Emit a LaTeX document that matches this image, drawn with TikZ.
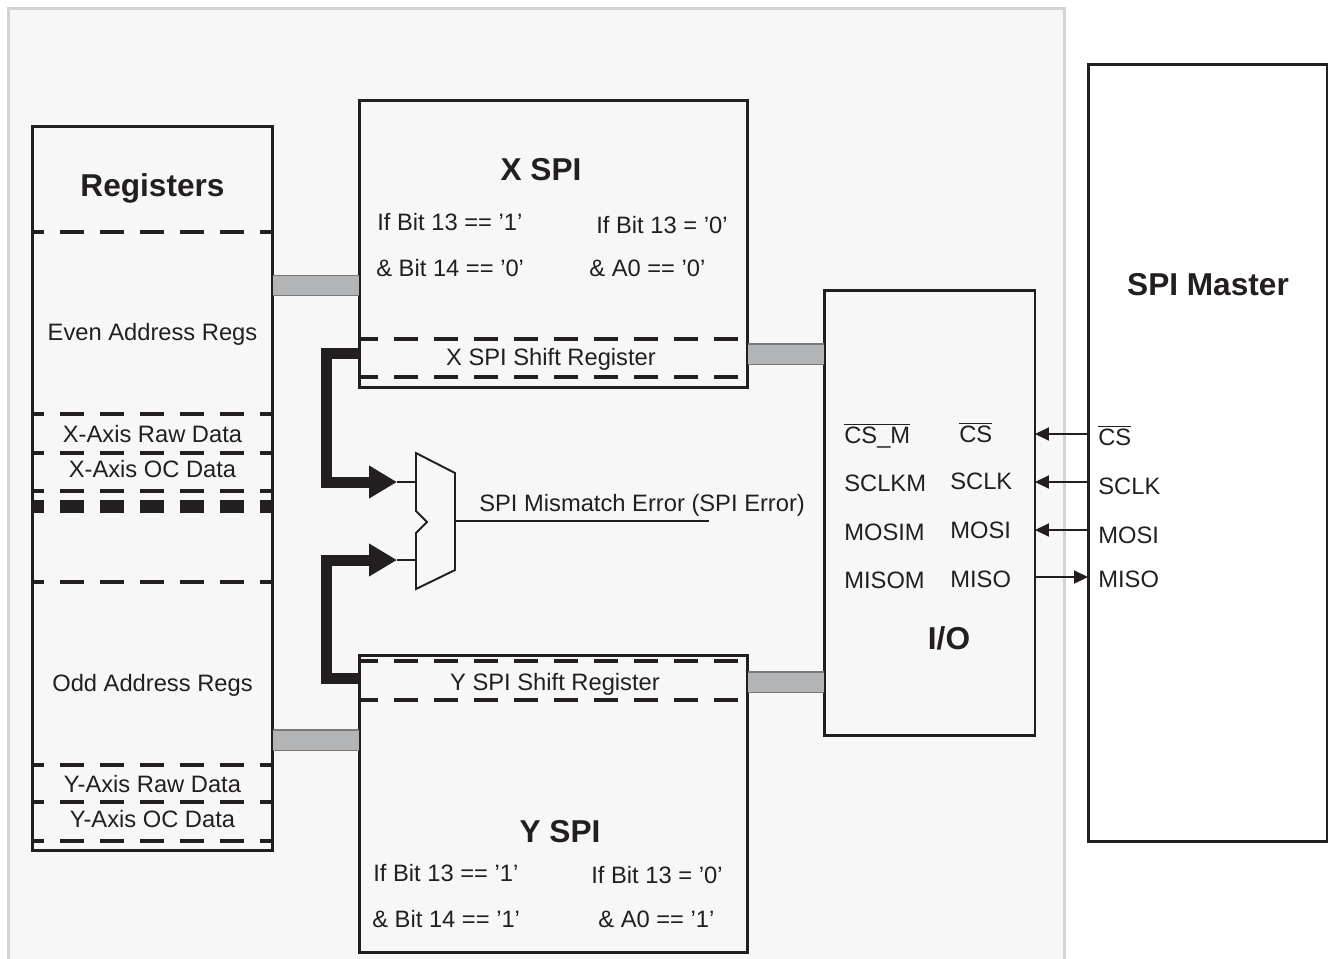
\documentclass[tikz,border=0pt]{standalone}
\usepackage{fontspec}
\setmainfont{Liberation Sans}
\usepackage{tikz}
\usetikzlibrary{arrows.meta, positioning}
\definecolor{inkblack}{RGB}{35,31,32}
\definecolor{panelgray}{RGB}{247,247,247}
\definecolor{paneledge}{RGB}{209,211,212}
\definecolor{busfill}{RGB}{179,180,182}
\definecolor{busedge}{RGB}{120,121,123}
\tikzstyle{block}=[rectangle, draw=inkblack, line width=1.7pt, fill=panelgray,
  outer sep=0pt, inner sep=0pt]
\tikzstyle{lbl}=[inner sep=0pt, anchor=base, text=inkblack,
  font=\fontsize{13.5}{16}\selectfont]
\tikzstyle{title}=[lbl, font=\fontsize{18}{21}\selectfont\bfseries]
\tikzstyle{divider}=[draw=inkblack, line width=2.1pt,
  dash pattern=on 0.48cm off 0.32cm, dash phase=0.24cm]
\tikzstyle{bus}=[draw=busedge, line width=0.6pt, double=busfill, double distance=0.38cm]
\tikzstyle{wire}=[draw=inkblack, line width=0.22cm, line join=miter,
  -{Triangle[length=0.56cm,width=0.62cm]}]
\tikzstyle{sig}=[draw=inkblack, line width=1.1pt, -{Triangle[length=0.28cm,width=0.26cm]}]
\tikzstyle{thinline}=[draw=inkblack, line width=1.1pt]
\newcommand{\ovl}[1]{$\overline{\mbox{#1}}$}

\begin{document}
\begin{tikzpicture}[x=0.02cm, y=-0.02cm]
  \useasboundingbox (0,0) rectangle (1328,958);
  % sensor side panel
  \fill[panelgray] (8,8) rectangle (1064.5,970);
  \draw[paneledge, line width=1.7pt] (8.5,970) -- (8.5,8.5) -- (1064.5,8.5) -- (1064.5,970);

  % main blocks
  \node[block, minimum width=4.82cm, minimum height=14.5cm] (regs) at (152.5,488.5) {};
  \node[block, minimum width=7.78cm, minimum height=5.76cm] (xspi) at (553.5,244) {};
  \node[block, minimum width=7.78cm, minimum height=5.96cm] (yspi) at (553.5,804) {};
  \node[block, minimum width=4.22cm, minimum height=8.92cm] (io) at (929.5,513) {};
  \node[block, fill=white, minimum width=4.78cm, minimum height=15.56cm] (master) at (1207.5,453) {};

  % register map dividers
  \foreach \y in {232,414,453,491,582,765,802,841}
    \draw[divider] (regs.west |- 0,\y) -- (regs.east |- 0,\y);
  \draw[divider, line width=0.26cm] (regs.west |- 0,506) -- (regs.east |- 0,506);
  \foreach \y in {339,377}
    \draw[divider, dash phase=0.1cm] (xspi.west |- 0,\y) -- (xspi.east |- 0,\y);
  \foreach \y in {661,700}
    \draw[divider, dash phase=0.1cm] (yspi.west |- 0,\y) -- (yspi.east |- 0,\y);

  % register texts
  \node[title] (regtitle) at (152.5,196) {Registers};
  \node[lbl] (evenregs) at (152.5,340) {Even Address Regs};
  \node[lbl] (xraw) at (152.5,442) {X-Axis Raw Data};
  \node[lbl] (xoc) at (152.5,477) {X-Axis OC Data};
  \node[lbl] (oddregs) at (152.5,691) {Odd Address Regs};
  \node[lbl] (yraw) at (152.5,792) {Y-Axis Raw Data};
  \node[lbl] (yoc) at (152.5,827) {Y-Axis OC Data};

  % X SPI
  \node[title] (xtitle) at (541,180) {X SPI};
  \node[lbl, anchor=base west] (xcond1) at (377,230) {If Bit 13 == '1'};
  \node[lbl, anchor=base west] (xcond2) at (376,276) {\& Bit 14 == '0'};
  \node[lbl, anchor=base west] (xcond3) at (596,233) {If Bit 13 = '0'};
  \node[lbl, anchor=base west] (xcond4) at (589,276) {\& A0 == '0'};
  \node[lbl] (xshift) at (551,365) {X SPI Shift Register};

  % Y SPI
  \node[lbl] (yshift) at (555,690) {Y SPI Shift Register};
  \node[title] (ytitle) at (560,842) {Y SPI};
  \node[lbl, anchor=base west] (ycond1) at (373,881) {If Bit 13 == '1'};
  \node[lbl, anchor=base west] (ycond2) at (372,927) {\& Bit 14 == '1'};
  \node[lbl, anchor=base west] (ycond3) at (591,883) {If Bit 13 = '0'};
  \node[lbl, anchor=base west] (ycond4) at (598,927) {\& A0 == '1'};

  % I/O pins
  \node[lbl, anchor=base west] (csm) at (844,443) {\ovl{CS\_M}};
  \node[lbl, anchor=base west] (sclkm) at (844,491) {SCLKM};
  \node[lbl, anchor=base west] (mosim) at (844,540) {MOSIM};
  \node[lbl, anchor=base west] (misom) at (844,588) {MISOM};
  \node[lbl, anchor=base west] (iocs) at (959,442) {\ovl{CS}};
  \node[lbl, anchor=base west] (iosclk) at (950,489) {SCLK};
  \node[lbl, anchor=base west] (iomosi) at (950,538) {MOSI};
  \node[lbl, anchor=base west] (iomiso) at (950,587) {MISO};
  \node[title] (iotitle) at (949,649) {I/O};

  % SPI master
  \node[title] (mtitle) at (1208,295) {SPI Master};
  \node[lbl, anchor=base west] (mcs) at (1098,445) {\ovl{CS}};
  \node[lbl, anchor=base west] (msclk) at (1098,494) {SCLK};
  \node[lbl, anchor=base west] (mmosi) at (1098,543) {MOSI};
  \node[lbl, anchor=base west] (mmiso) at (1098,587) {MISO};

  \draw[sig] (master.west |- 0,434) -- (io.east |- 0,434);
  \draw[sig] (master.west |- 0,482) -- (io.east |- 0,482);
  \draw[sig] (master.west |- 0,530) -- (io.east |- 0,530);
  \draw[sig] (io.east |- 0,577) -- (master.west |- 0,577);

  % data buses
  \draw[bus] (regs.east |- 0,285.5) -- (xspi.west |- 0,285.5);
  \draw[bus] (xspi.east |- 0,354) -- (io.west |- 0,354);
  \draw[bus] (yspi.east |- 0,682) -- (io.west |- 0,682);
  \draw[bus] (regs.east |- 0,740) -- (yspi.west |- 0,740);

  % comparator
  \draw[thinline, fill=panelgray] (416,453) -- (455,473) -- (455,570) -- (416,589)
    -- (416,533) -- (427,522) -- (416,511) -- cycle;
  \coordinate (muxa) at (416,482);
  \coordinate (muxb) at (416,560);
  \coordinate (muxout) at (455,521);
  \coordinate (errend) at (709,521);
  \coordinate (tipa) at (397,482);
  \coordinate (tipb) at (397,560);
  \draw[wire] (xspi.west |- 0,353.5) -| (326,482) -- (tipa);
  \draw[wire] (yspi.west |- 0,678) -| (326,560) -- (tipb);
  \draw[thinline] (tipa) -- (muxa);
  \draw[thinline] (tipb) -- (muxb);
  \draw[thinline] (muxout) -- (errend);
  \node[lbl, anchor=base west] (errlabel) at (479,511) {SPI Mismatch Error (SPI Error)};
\end{tikzpicture}
\end{document}
